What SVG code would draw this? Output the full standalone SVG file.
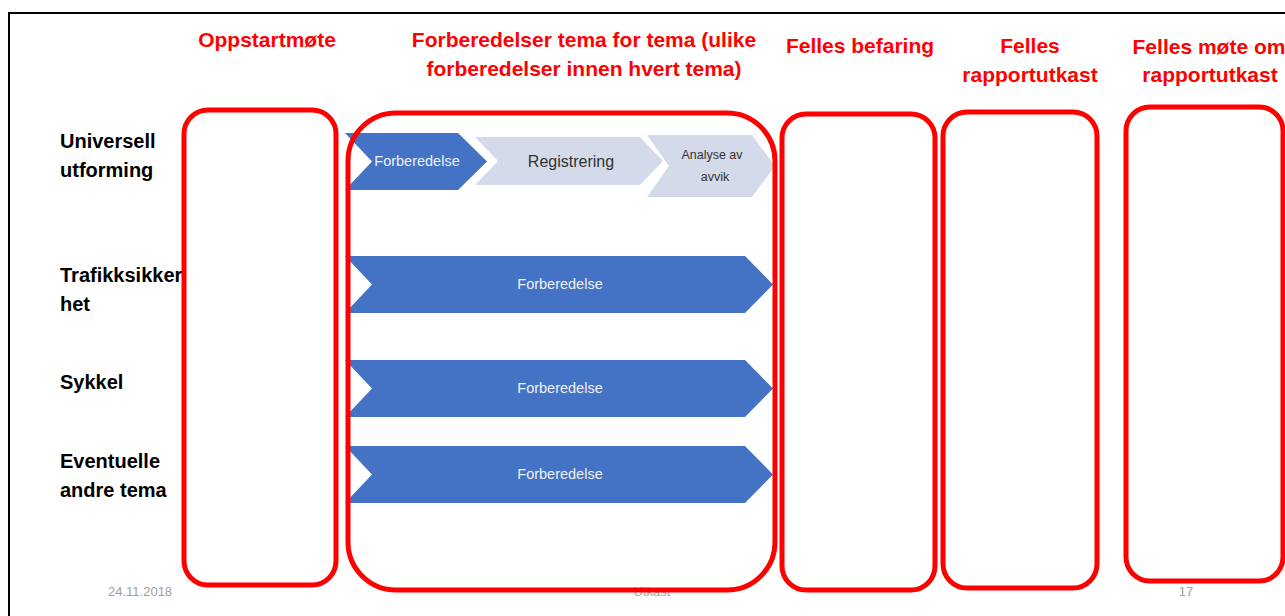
<svg xmlns="http://www.w3.org/2000/svg" width="1285" height="616" viewBox="0 0 1285 616">
<style>
.hdr{font-family:"Liberation Sans",Arial,sans-serif;font-weight:bold;font-size:21px;fill:#FF0000;text-anchor:middle}
.lbl{font-family:"Liberation Sans",Arial,sans-serif;font-weight:bold;font-size:20px;fill:#000}
.box{fill:none;stroke:#FF0000;stroke-width:5}
.dark{fill:#4472C4}
.light{fill:#D5DAEA}
.wt{font-family:"Liberation Sans",Arial,sans-serif;font-size:14.5px;fill:#EEF1F8;text-anchor:middle}
.gt{font-family:"Liberation Sans",Arial,sans-serif;fill:#333;text-anchor:middle}
.ft{font-family:"Liberation Sans Narrow","Liberation Sans",Arial,sans-serif;font-size:13px;fill:#A0A0A0}
</style>
<rect x="0" y="0" width="1285" height="616" fill="#fff"/>
<rect x="9" y="13" width="1290" height="620" fill="none" stroke="#000" stroke-width="2"/>
<g id="headers">
<text class="hdr" x="267" y="47">Oppstartmøte</text>
<text class="hdr" x="584" y="47">Forberedelser tema for tema (ulike</text>
<text class="hdr" x="584" y="76">forberedelser innen hvert tema)</text>
<text class="hdr" x="860" y="53">Felles befaring</text>
<text class="hdr" x="1030" y="53">Felles</text>
<text class="hdr" x="1030" y="82">rapportutkast</text>
<text class="hdr" x="1209" y="54">Felles møte om</text>
<text class="hdr" x="1210" y="82">rapportutkast</text>
</g>
<g id="row-labels">
<text class="lbl" x="60" y="148">Universell</text>
<text class="lbl" x="60" y="177">utforming</text>
<text class="lbl" x="60" y="282">Trafikksikker</text>
<text class="lbl" x="60" y="311">het</text>
<text class="lbl" x="60" y="389">Sykkel</text>
<text class="lbl" x="60" y="468">Eventuelle</text>
<text class="lbl" x="60" y="497">andre tema</text>
</g>
<g id="footer">
<text class="ft" x="108" y="596">24.11.2018</text>
<text class="ft" x="652" y="596" text-anchor="middle">Utkast</text>
<text class="ft" x="1186" y="596" text-anchor="middle">17</text>
</g>
<g id="chevrons">
<g id="uu-forberedelse">
<polygon class="dark" points="345,133 458,133 487,161.5 458,190 345,190 372,161.5"/>
<text class="wt" x="417" y="166">Forberedelse</text>
</g>
<g id="uu-registrering">
<polygon class="light" points="475,137 640,137 663,161 640,185 475,185 498,161"/>
<text class="gt" x="571" y="167" font-size="16">Registrering</text>
</g>
<g id="uu-analyse">
<polygon class="light" points="647,135 752,135 775,166 752,197 647,197 669,166"/>
<text class="gt" x="712" y="159" font-size="12.5">Analyse av</text>
<text class="gt" x="715" y="181" font-size="12.5">avvik</text>
</g>
<g id="ts-forberedelse">
<polygon class="dark" points="345,256 745,256 773,284.5 745,313 345,313 372,284.5"/>
<text class="wt" x="560" y="289">Forberedelse</text>
</g>
<g id="sykkel-forberedelse">
<polygon class="dark" points="345,360 745,360 773,388.5 745,417 345,417 372,388.5"/>
<text class="wt" x="560" y="393">Forberedelse</text>
</g>
<g id="andre-forberedelse">
<polygon class="dark" points="345,446 745,446 773,474.5 745,503 345,503 372,474.5"/>
<text class="wt" x="560" y="479">Forberedelse</text>
</g>
</g>
<g id="phase-boxes">
<rect id="box-oppstart" class="box" x="184" y="110" width="152" height="475" rx="24"/>
<rect id="box-forberedelser" class="box" x="348" y="113" width="427" height="477" rx="48"/>
<rect id="box-befaring" class="box" x="782" y="114" width="153" height="476" rx="24"/>
<rect id="box-rapportutkast" class="box" x="943" y="112" width="154" height="476" rx="24"/>
<rect id="box-mote" class="box" x="1126" y="107" width="157" height="474" rx="24"/>
</g>
</svg>
